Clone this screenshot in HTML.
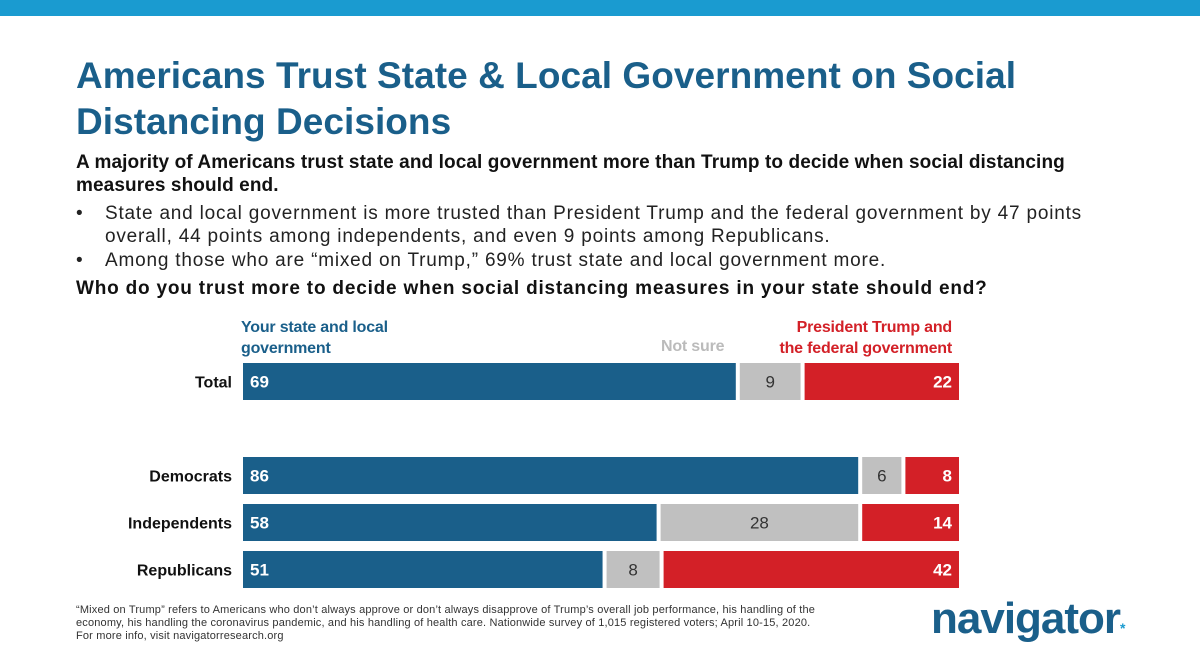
<!DOCTYPE html>
<html><head><meta charset="utf-8"><style>
body{margin:0;width:1200px;height:672px;background:#fff;font-family:"Liberation Sans",sans-serif;position:relative;overflow:hidden}
.a{position:absolute;white-space:nowrap}
</style></head><body>
<div class="a" style="left:0;top:0;width:1200px;height:16px;background:#1a9bd0"></div>
<div class="a" style="left:76px;top:53px;font-size:37px;font-weight:bold;color:#1a5f8a;line-height:46px;letter-spacing:0.05px">Americans Trust State &amp; Local Government on Social<br>Distancing Decisions</div>
<div class="a" style="left:76px;top:151px;font-size:19px;font-weight:bold;color:#111;line-height:23px;letter-spacing:0.1px">A majority of Americans trust state and local government more than Trump to decide when social distancing<br>measures should end.</div>
<div class="a" style="left:76px;top:202px;font-size:19px;color:#222;line-height:23px;letter-spacing:0.8px">•<span style="position:absolute;left:29px">State and local government is more trusted than President Trump and the federal government by 47 points<br>overall, 44 points among independents, and even 9 points among Republicans.</span></div>
<div class="a" style="left:76px;top:249px;font-size:19px;color:#222;line-height:23px;letter-spacing:0.8px">•<span style="position:absolute;left:29px">Among those who are “mixed on Trump,” 69% trust state and local government more.</span></div>
<div class="a" style="left:76px;top:278px;font-size:19px;font-weight:bold;color:#111;letter-spacing:0.8px">Who do you trust more to decide when social distancing measures in your state should end?</div>
<div class="a" style="left:241px;top:317px;font-size:16px;font-weight:bold;color:#1a5f8a;line-height:21px;letter-spacing:-0.2px">Your state and local<br>government</div>
<div class="a" style="left:661px;top:338px;font-size:16px;font-weight:bold;color:#bbb;letter-spacing:-0.2px">Not sure</div>
<div class="a" style="right:248px;top:317px;font-size:16px;font-weight:bold;color:#d32027;line-height:21px;text-align:right;letter-spacing:-0.2px">President Trump and<br>the federal government</div>
<svg class="a" id="chart" style="left:0;top:0" width="1200" height="672"></svg>
<div class="a" style="left:76px;top:604px;font-size:11px;color:#333;line-height:13px;letter-spacing:0.17px">“Mixed on Trump” refers to Americans who don’t always approve or don’t always disapprove of Trump’s overall job performance, his handling of the<br>economy, his handling the coronavirus pandemic, and his handling of health care. Nationwide survey of 1,015 registered voters; April 10-15, 2020.<br>For more info, visit navigatorresearch.org</div>
<div class="a" style="left:931px;top:594px;font-size:44px;font-weight:bold;color:#1a5f8a;letter-spacing:-1px">navigator<span style="font-size:14px;color:#1a9bd0">*</span></div>
<script>
const categories=["Total","Democrats","Independents","Republicans"];
const stateVals=[69,86,58,51];
const notSureVals=[9,6,28,8];
const trumpVals=[22,8,14,42];
const rowTops=[363,457,504,551];
const x0=243,totalW=720,gap=4,bh=37;
const svg=document.getElementById('chart');
const NS='http://www.w3.org/2000/svg';
categories.forEach((c,i)=>{
  const y=rowTops[i];
  const sum=stateVals[i]+notSureVals[i]+trumpVals[i];
  const xs=v=>v*totalW/sum;
  const lab=document.createElementNS(NS,'text');
  
  
  lab.setAttribute('x',232);lab.setAttribute('y',y+bh/2+6);
  lab.setAttribute('text-anchor','end');lab.setAttribute('font-size','16');lab.setAttribute('font-weight','bold');lab.setAttribute('fill','#111');
  lab.textContent=c;svg.appendChild(lab);
  const segs=[[stateVals[i],'#1a5f8a','#fff','start'],[notSureVals[i],'#c0c0c0','#333','middle'],[trumpVals[i],'#d32027','#fff','end']];
  let cx=x0;
  segs.forEach((s,k)=>{
    const w=xs(s[0])-gap;
    const r=document.createElementNS(NS,'rect');
    
    
    r.setAttribute('x',cx);r.setAttribute('y',y);r.setAttribute('width',w);r.setAttribute('height',bh);r.setAttribute('fill',s[1]);
    svg.appendChild(r);
    const t=document.createElementNS(NS,'text');
    
    
    const tx=k==0?cx+7:k==1?cx+w/2:cx+w-7;
    t.setAttribute('x',tx);t.setAttribute('y',y+bh/2+6);t.setAttribute('text-anchor',s[3]);
    t.setAttribute('font-size','17');t.setAttribute('font-weight',k==1?'normal':'bold');t.setAttribute('fill',s[2]);
    t.textContent=s[0];svg.appendChild(t);
    cx+=xs(s[0]);
  });
});
</script>
</body></html>
